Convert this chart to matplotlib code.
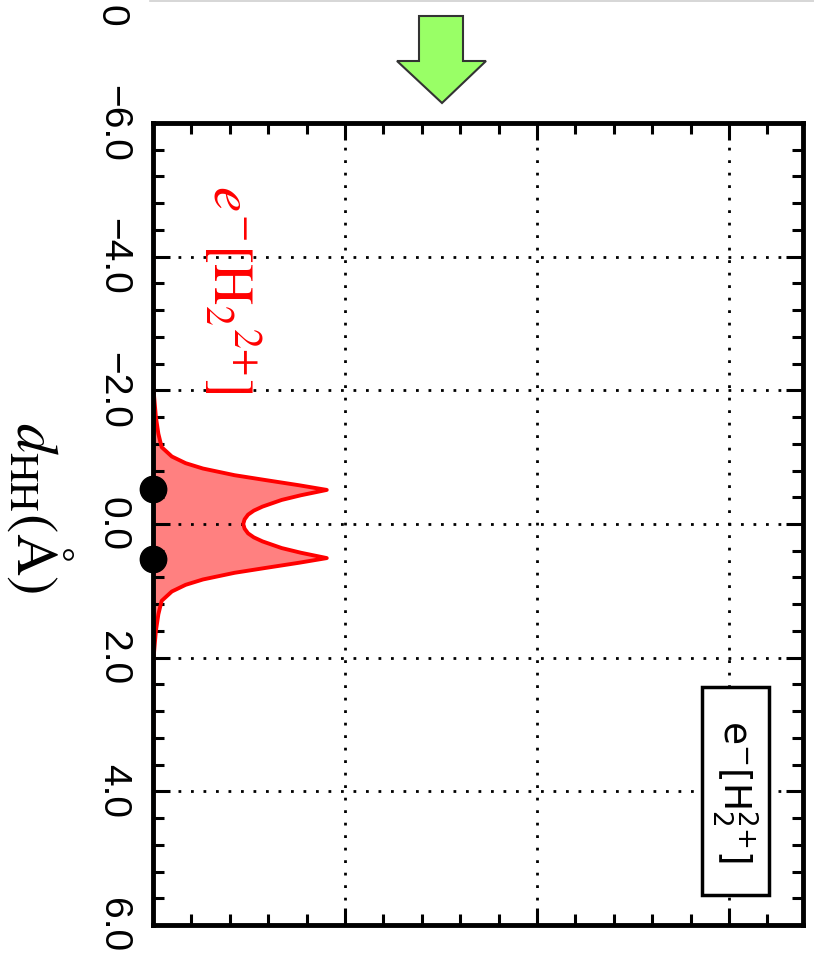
import matplotlib
matplotlib.use('Agg')
import matplotlib.pyplot as plt
from matplotlib.patches import Polygon, Rectangle
from matplotlib.lines import Line2D

# data (chart is drawn rotated 90 deg clockwise)
dhh = [-6.0, -2.0, -1.6, -1.35, -1.15, -1.01, -0.91, -0.83, -0.73, -0.66, -0.58,
       -0.51, -0.43, -0.36, -0.26, -0.2, -0.14, -0.07, 0.0, 0.07, 0.14, 0.2, 0.26,
       0.36, 0.43, 0.51, 0.58, 0.66, 0.73, 0.83, 0.91, 1.01, 1.15, 1.35, 1.6,
       2.0, 6.0]
density = [0.0, 0.003, 0.015, 0.028, 0.045, 0.098, 0.17, 0.26, 0.425, 0.58, 0.76,
           0.905, 0.77, 0.67, 0.57, 0.525, 0.495, 0.477, 0.47, 0.477, 0.495, 0.525,
           0.57, 0.67, 0.77, 0.905, 0.76, 0.58, 0.425, 0.26, 0.17, 0.098, 0.045,
           0.028, 0.015, 0.003, 0.0]
nuclei = [-0.52, 0.52]

dhh_ticks = [-6, -4, -2, 0, 2, 4, 6]
dhh_labels = ['-6.0', '-4.0', '-2.0', '0.0', '2.0', '4.0', '6.0']
dens_ticks = [1, 2, 3]

fig = plt.figure(figsize=(8.14, 9.61), dpi=100)
ax = fig.add_axes([153/814, 1-925/961, 650/814, 802/961])

ax.fill_betweenx(dhh, 0, density, color='#ff8080', lw=0, zorder=1.5)
ax.plot(density, dhh, color='red', lw=2.8, zorder=1.6, solid_joinstyle='round')
ax.plot([0]*len(nuclei), nuclei, 'o', color='black', ms=19, clip_on=False, zorder=5)

ax.set_xlim(0, 3.385)
ax.set_ylim(6, -6)

ax.set_yticks(dhh_ticks)
ax.set_yticklabels([s.replace('-', '\u2212') for s in dhh_labels],
                   fontsize=28, family='Liberation Sans')
ax.set_yticks([t/10 for t in range(-60, 61, 4)], minor=True)
ax.set_xticks(dens_ticks)
ax.set_xticklabels([])
ax.set_xticks([t/5 for t in range(0, 17)], minor=True)

ax.tick_params(which='both', direction='in', top=True, right=True, width=2.2)
ax.tick_params(which='major', length=12)
ax.tick_params(which='minor', length=8)
ax.tick_params(axis='y', which='major', labelrotation=-90, pad=16)
for lab in ax.get_yticklabels():
    lab.set_va('center')

ax.grid(True, which='major', color='black', lw=2, linestyle=(0, (1, 3.5)))
for sp in ax.spines.values():
    sp.set_linewidth(3.5)
    sp.set_zorder(4)

# labels
fig.text(40/814, 1-508/961, r'$d_{\mathrm{HH}}(\mathrm{Å})$', rotation=-90,
         ha='center', va='center', fontsize=42, math_fontfamily='stix')
fig.text(232/814, 1-289/961, r'$e^{-}[\mathrm{H}_{2}{}^{2{+}}]$', rotation=-90,
         ha='center', va='center', fontsize=41, color='red', math_fontfamily='stix')

# key box
fig.add_artist(Rectangle((702/814, 1-895/961), 67/814, 208/961, fc='white', ec='black',
                         lw=2.5, transform=fig.transFigure, zorder=6))
fig.text(735/814, 1-791/961, r'$\mathrm{e}^{\mathrm{-}}[\mathrm{H}_2^{2{+}}]$', rotation=-90,
         ha='center', va='center', fontsize=27, math_fontfamily='dejavusans', zorder=7)

# bits of the neighbouring panel
fig.text(111/814, 1-16/961, '0', rotation=-90, ha='center', va='center',
         fontsize=28, family='Liberation Sans')
fig.add_artist(Line2D([150/814, 1], [1-1/961, 1-1/961], color='#d0d0d0', lw=1.2,
                      transform=fig.transFigure))

# green arrow
arrow_px = [(419, 16), (463, 16), (463, 61), (486, 61), (442, 103), (397, 61), (419, 61)]
fig.add_artist(Polygon([(x/814, 1-y/961) for x, y in arrow_px], closed=True,
                       fc='#99ff66', ec='#333333', lw=1.5, transform=fig.transFigure))

fig.savefig('out.png', dpi=100)
